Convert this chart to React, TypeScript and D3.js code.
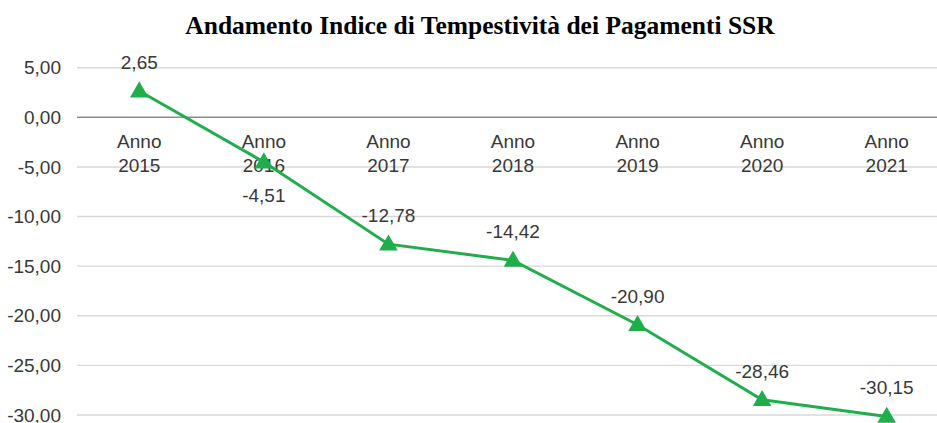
import React from 'react';
import * as d3 from 'd3';

// data
const years = ['2015', '2016', '2017', '2018', '2019', '2020', '2021'];
const indice = [2.65, -4.51, -12.78, -14.42, -20.9, -28.46, -30.15];
const yTicks = [5, 0, -5, -10, -15, -20, -25, -30];
// which labels sit under their point instead of over it
const labelBelow = [false, true, false, false, false, false, false];

const W = 937;
const H = 423;
const green = '#1fae4b';
const fontSans = '"Liberation Sans", Arial, sans-serif';

const fmt = (v: number) => d3.format('.2f')(v).replace('.', ',').replace('−', '-');

export default function App() {
  const x = d3.scaleBand<string>().domain(years).range([77, 949]);
  const y = d3.scaleLinear().domain([-30, 5]).range([415, 67.7]);
  const cx = (i: number) => (x(years[i]) ?? 0) + x.bandwidth() / 2;

  const line = d3.line<number>()
    .x((_, i) => cx(i))
    .y(d => y(d));

  const tri = d3.symbol().type(d3.symbolTriangle).size(150)();

  return (
    <svg width={W} height={H} style={{ position: 'absolute', left: 0, top: 0, background: '#fff' }}>
      <rect width={W} height={H} fill="#fff" />
      <text x={480} y={34} textAnchor="middle" fontFamily='"Liberation Serif", "Times New Roman", serif'
        fontWeight="bold" fontSize={25.5} fill="#000">
        Andamento Indice di Tempestività dei Pagamenti SSR
      </text>

      {/* gridlines */}
      {yTicks.map(t => (
        <line key={t} x1={77} x2={W} y1={y(t)} y2={y(t)}
          stroke={t === 0 ? '#8c8c8c' : '#d9d9d9'} strokeWidth={t === 0 ? 1.6 : 1.4} />
      ))}

      {/* y tick labels */}
      {yTicks.map(t => (
        <text key={'l' + t} x={61} y={y(t)} dy="0.35em" textAnchor="end"
          fontFamily={fontSans} fontSize={19} fill="#383838">{fmt(t)}</text>
      ))}

      {/* category labels next to the zero line */}
      {years.map((yr, i) => (
        <text key={yr} x={cx(i)} textAnchor="middle" fontFamily={fontSans} fontSize={19} fill="#383838">
          <tspan x={cx(i)} y={148}>Anno</tspan>
          <tspan x={cx(i)} y={172}>{yr}</tspan>
        </text>
      ))}

      <path d={line(indice) ?? ''} fill="none" stroke={green} strokeWidth={3} />

      {indice.map((v, i) => (
        <path key={'m' + i} d={tri ?? ''} transform={`translate(${cx(i)},${y(v) + 1})`} fill={green} />
      ))}

      {indice.map((v, i) => (
        <text key={'v' + i} x={cx(i)} y={labelBelow[i] ? y(v) + 40 : y(v) - 22}
          textAnchor="middle" fontFamily={fontSans} fontSize={19} fill="#383838">{fmt(v)}</text>
      ))}
    </svg>
  );
}
